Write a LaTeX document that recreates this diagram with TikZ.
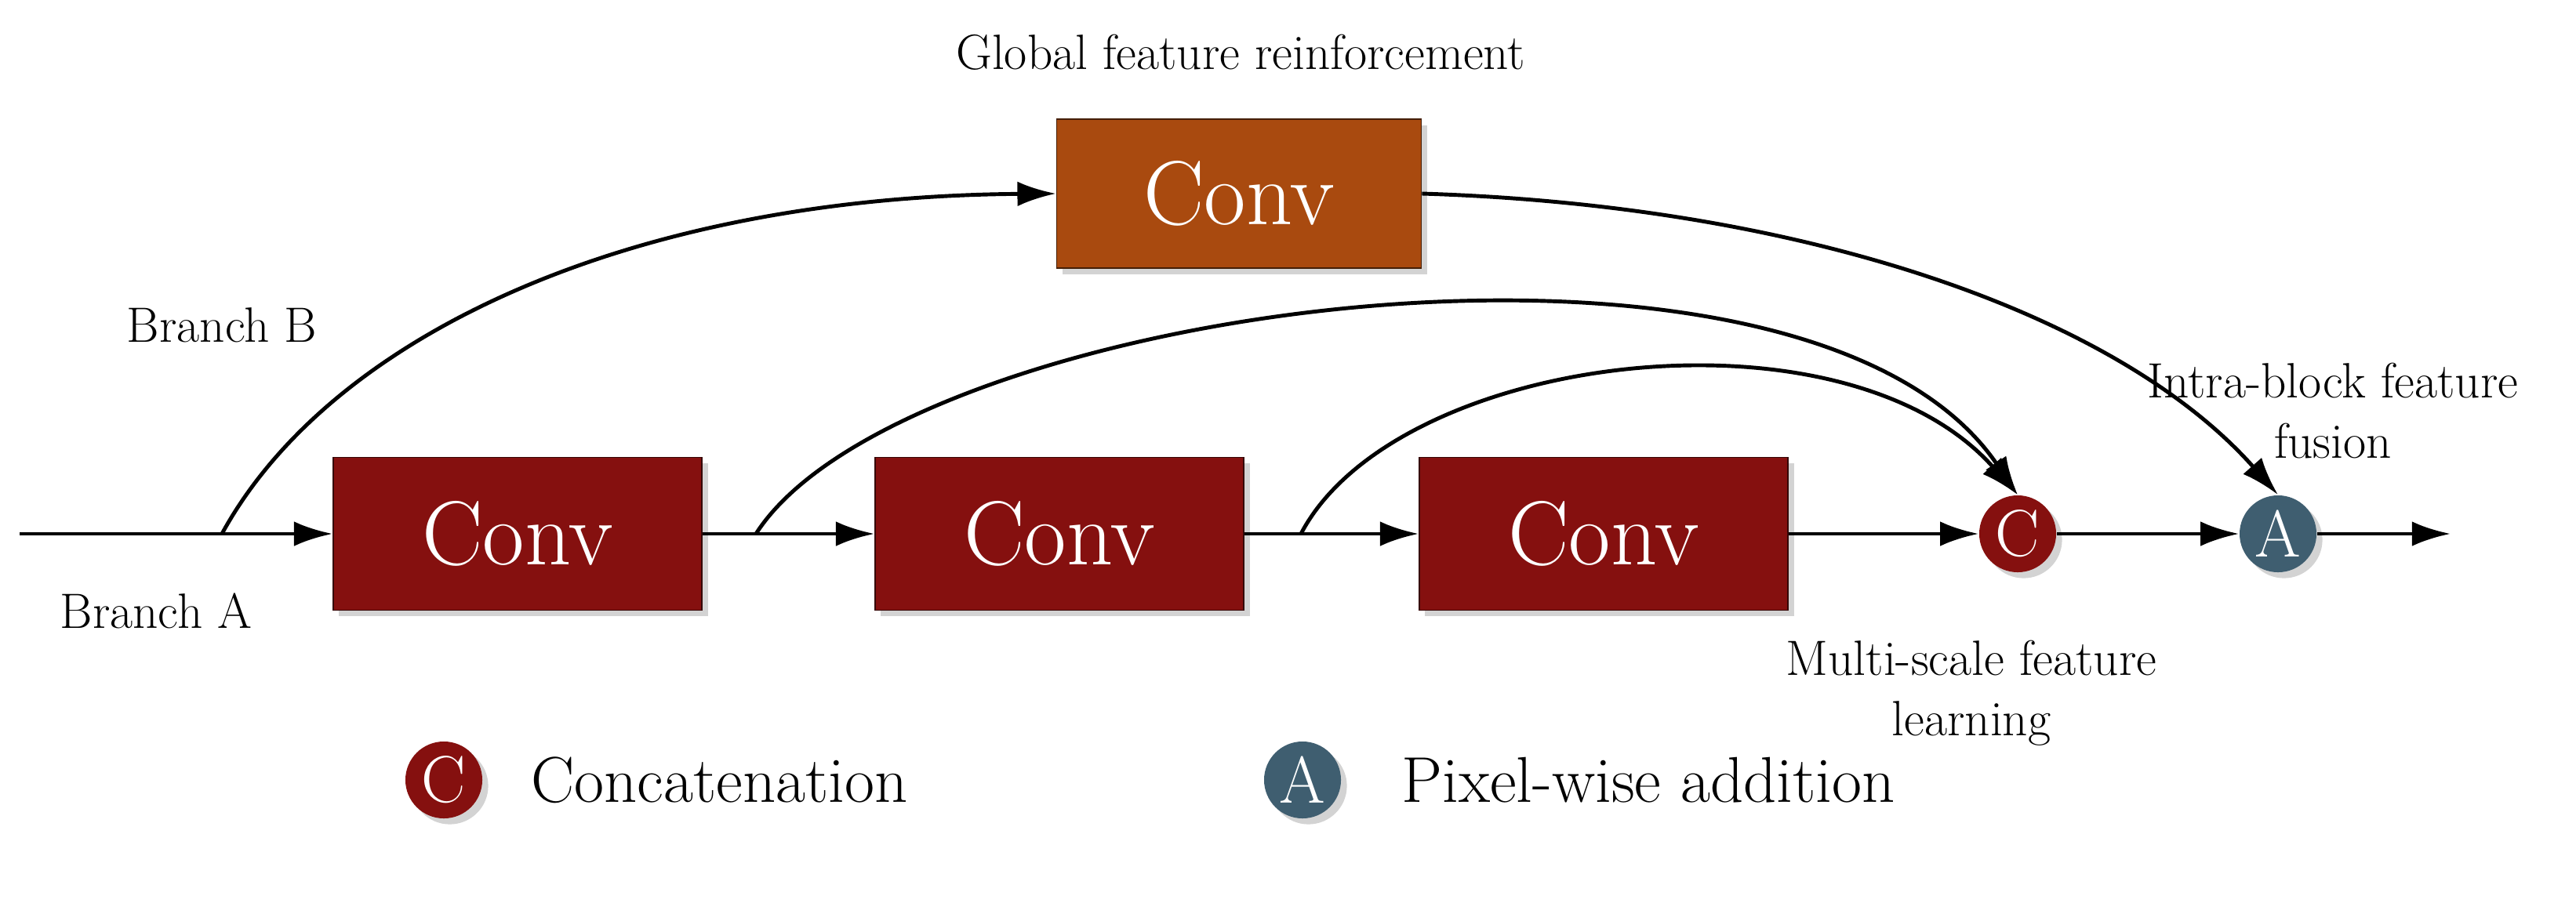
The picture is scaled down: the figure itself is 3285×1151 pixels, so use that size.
\documentclass[tikz,border=0pt]{standalone}
\usetikzlibrary{shadows,arrows.meta}
\definecolor{convred}{HTML}{85100F}
\definecolor{convorange}{HTML}{A94A0F}
\definecolor{addblue}{HTML}{3F5E70}
\begin{document}
\begin{tikzpicture}[x=0.01cm,y=-0.01cm,
  conv/.style={draw=black!60!convred,fill=convred,text=white,minimum width=4.7cm,minimum height=1.95cm,font=\fontsize{33}{38}\selectfont,drop shadow={opacity=0.35}},
  op/.style={circle,fill=#1,text=white,minimum size=0.98cm,inner sep=0pt,font=\fontsize{24}{26}\selectfont,drop shadow={opacity=0.35}},
  lab/.style={font=\fontsize{18}{20}\selectfont,align=center},
  leg/.style={font=\fontsize{23.5}{26}\selectfont,anchor=west},
  arr/.style={-{Latex[length=14pt,width=9pt]},line width=1.4pt}]
\useasboundingbox (0,0) rectangle (3285,1151);
\node[conv] (c1) at (660,681) {Conv};
\node[conv] (c2) at (1351,681) {Conv};
\node[conv] (c3) at (2045,681) {Conv};
\node[conv,fill=convorange,draw=black!60!convorange,minimum height=1.9cm,minimum width=4.65cm] (g) at (1580,247) {Conv};
\node[op=convred] (C) at (2573,681) {C};
\node[op=addblue] (A) at (2905,681) {A};
\coordinate (s) at (25,681);
\coordinate (b) at (283,681);
\coordinate (b2) at (964,681);
\coordinate (b3) at (1659,681);
\coordinate (e) at (3125,681);
\draw[line width=1.4pt] (s) -- (b);
\draw[arr] (b) -- (c1);
\draw[arr] (c1) -- (c2);
\draw[arr] (c2) -- (c3);
\draw[arr] (c3) -- (C);
\draw[arr] (C) -- (A);
\draw[arr] (A) -- (e);
\draw[arr] (b) .. controls (420,430) and (800,251) .. (g.west);
\draw[arr] (g.east) .. controls (2300,262) and (2700,400) .. (A.north);
\draw[arr] (b2) .. controls (1150,390) and (2300,230) .. (C.north);
\draw[arr] (b3) .. controls (1780,450) and (2350,380) .. (C.north);
\node[lab] (t1) at (1582,67) {Global feature reinforcement};
\node[lab] (t2) at (283,415) {Branch B};
\node[lab] (t3) at (199,779) {Branch A};
\node[lab] (t4) at (2975,524) {Intra-block feature\\[2pt]fusion};
\node[lab] (t5) at (2514,884) {Multi-scale feature\\[2pt]learning};
\node[op=convred] (lc) at (566,995) {C};
\node[leg] (lt1) at (665,995) {Concatenation};
\node[op=addblue] (la) at (1661,995) {A};
\node[leg] (lt2) at (1775,995) {Pixel-wise addition};
\end{tikzpicture}
\end{document}
